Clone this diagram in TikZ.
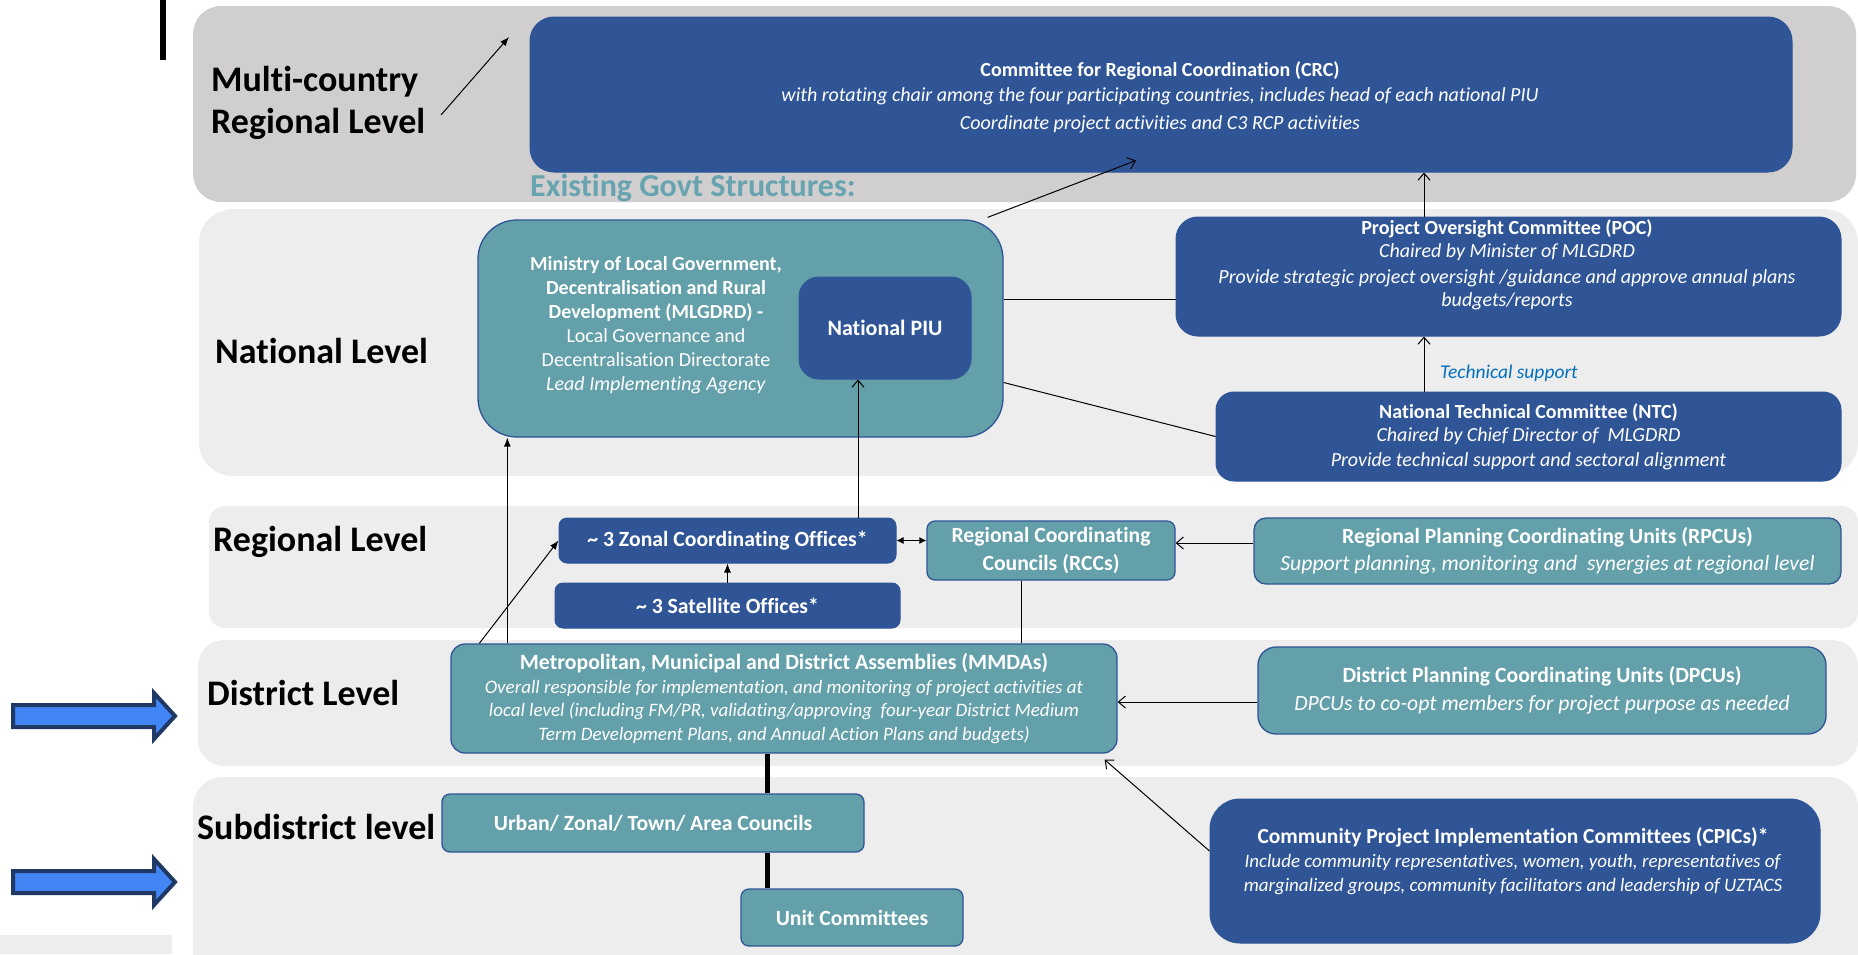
\documentclass[tikz,border=0pt]{standalone}
\usepackage{fontspec}
\setmainfont{Carlito}[Ligatures=NoCommon]
\usepackage{xcolor}
\usetikzlibrary{arrows.meta, positioning}
\definecolor{govblue}{RGB}{47, 85, 151}
\definecolor{govteal}{RGB}{100, 160, 170}
\definecolor{topband}{RGB}{208, 206, 206}
\definecolor{lowband}{RGB}{237, 237, 237}
\definecolor{existteal}{RGB}{104, 164, 176}
\definecolor{techblue}{RGB}{0, 112, 192}
\definecolor{arrowfill}{RGB}{66, 133, 244}
\definecolor{arrowedge}{RGB}{31, 56, 100}
\newcommand{\fsz}[2]{\fontsize{#1}{#2}\selectfont}

\begin{document}
\begin{tikzpicture}[x=1pt, y=-1pt,
    govbox/.style={rounded corners=#1, align=center, text=white, inner sep=0pt, line width=1pt},
    govbox/.default=10pt,
    darkbox/.style={govbox=#1, fill=govblue, draw=govblue},
    darkbox/.default=10pt,
    tealbox/.style={govbox=#1, fill=govteal, draw=govblue, line width=1.3pt},
    tealbox/.default=10pt,
    wh/.style 2 args={minimum width=#1, minimum height=#2},
    boxtext/.style={text=white, align=center, inner sep=0pt},
    lvl/.style={font=\bfseries\fsz{36}{42}, anchor=west, align=left, inner sep=0pt},
    link/.style={line width=1pt},
    openarr/.style={link, -{Straight Barb[length=7pt, width=12pt]}},
    fillarr/.style={link, -{Latex[length=9pt, width=7pt]}}]
  \useasboundingbox (0,0) rectangle (1858,954);

  % level bands
  \fill[topband, rounded corners=28pt] (193,6) rectangle (1856,202);
  \fill[lowband, rounded corners=34pt] (199,209) rectangle (1858,476);
  \fill[lowband, rounded corners=16pt] (209,506) rectangle (1858,628);
  \fill[lowband, rounded corners=26pt] (198,640) rectangle (1858,766);
  \fill[lowband, rounded corners=30pt] (193,777) rectangle (1858,990);
  \fill[lowband] (0,935) rectangle (172,954);
  \fill (160,0) rectangle (166,60);

  % level labels
  \node[lvl] (lvlmulti) at (211,103) {Multi-country\\Regional Level};
  \node[lvl] (lvlnat) at (215,351) {National Level};
  \node[lvl] (lvlreg) at (213,542) {Regional Level};
  \node[lvl] (lvldist) at (207,693) {District Level};
  \node[lvl] (lvlsub) at (197,827) {Subdistrict level};

  % multi-country level
  \node[darkbox=24pt, wh={1262pt}{155pt}] (crc) at (1161,94.5) {};
  \node[boxtext, font=\fsz{20}{24}] (crctext) at (1160,97)
    {\textbf{Committee for Regional Coordination (CRC)}\\[1pt]
     \textit{with rotating chair among the four participating countries, includes head of each national PIU}\\[4pt]
     \textit{Coordinate project activities and C3 RCP activities}};
  \node[font=\bfseries\fsz{32}{36}, text=existteal, anchor=west, inner sep=0pt] (existing) at (530,188) {Existing Govt Structures:};
  \coordinate (multitail) at (441,115);
  \coordinate (multihead) at (509,37);
  \draw[fillarr] (multitail) -- (multihead);

  % national level
  \node[tealbox=39pt, wh={525pt}{217pt}] (mlgdrd) at (740.5,328.5) {};
  \node[boxtext, font=\fsz{20}{24}] (mlgdrdtext) at (656,325)
    {\textbf{Ministry of Local Government,}\\
     \textbf{Decentralisation and Rural}\\
     \textbf{Development (MLGDRD) -}\\
     Local Governance and\\
     Decentralisation Directorate\\
     \textit{Lead Implementing Agency}};
  \node[darkbox=20pt, wh={172pt}{102pt}, font=\bfseries\fsz{22}{26}] (piu) at (885,328) {National PIU};

  \node[darkbox=22pt, wh={665pt}{119pt}] (poc) at (1508.5,276.5) {};
  \node[boxtext, font=\fsz{20}{23.5}] (poctext) at (1507,265)
    {\textbf{Project Oversight Committee (POC)}\\
     \textit{Chaired by Minister of MLGDRD}\\[2pt]
     \textit{Provide strategic project oversight /guidance and approve annual plans}\\
     \textit{budgets/reports}};
  \node[darkbox=18pt, wh={625pt}{89pt}, font=\fsz{20}{23.5}] (ntc) at (1528.5,436.5)
    {\textbf{National Technical Committee (NTC)}\\
     \textit{Chaired by Chief Director of\ \ MLGDRD}\\[1pt]
     \textit{Provide technical support and sectoral alignment}};
  \node[font=\itshape\fsz{19.5}{23.5}, text=techblue, anchor=west, inner sep=0pt] (techsup) at (1440,373) {Technical support};

  \coordinate (techx) at (1424,0);
  \draw[openarr] (ntc.north -| techx) -- (poc.south -| techx);
  \draw[openarr] (poc.north -| techx) -- (crc.south -| techx);
  \draw[link] ([yshift=29pt]mlgdrd.east) -- ([yshift=29pt]mlgdrd.east -| poc.west);
  \draw[link] ([yshift=-54pt]mlgdrd.east) -- (ntc.west);
  \draw[openarr] ([xshift=-16pt,yshift=2pt]mlgdrd.north east) -- ([xshift=-25pt,yshift=12pt]crc.south);

  % regional level
  \node[darkbox=8pt, wh={337pt}{45pt}, font=\bfseries\fsz{21.7}{24}] (zonal) at (727.5,540.5) {\textasciitilde{} 3 Zonal Coordinating Offices*};
  \node[darkbox=8pt, wh={345pt}{45pt}, font=\bfseries\fsz{21.7}{24}] (satellite) at (727.5,605.5) {\textasciitilde{} 3 Satellite Offices*};
  \node[tealbox=8pt, wh={248pt}{59pt}, font=\bfseries\fsz{21.7}{28}] (rcc) at (1051,550.5) {Regional Coordinating\\Councils (RCCs)};
  \node[tealbox=12pt, wh={587pt}{66pt}, font=\fsz{21.7}{27}] (rpcu) at (1547.5,551)
    {\textbf{Regional Planning Coordinating Units (RPCUs)}\\
     \textit{Support planning, monitoring and\ \ synergies at regional level}};

  \draw[fillarr] (satellite) -- (zonal);
  \draw[link, {Latex[length=7pt, width=7pt]}-{Latex[length=7pt, width=7pt]}] (zonal.east) -- (zonal.east -| rcc.west);
  \draw[openarr] ([yshift=8pt]rpcu.west) -- ([yshift=8pt]rpcu.west -| rcc.east);
  \coordinate (piux) at ([xshift=-27pt]piu.south);
  \draw[openarr] (zonal.north -| piux) -- (piux);

  % district level
  \node[tealbox=14pt, wh={666pt}{109pt}, font=\fsz{19}{23.5}] (mmda) at (784,698.5)
    {\textbf{\fsz{21.8}{23.5}Metropolitan, Municipal and District Assemblies (MMDAs)}\\
     \textit{Overall responsible for implementation, and monitoring of project activities at}\\
     \textit{local level (including FM/PR, validating/approving\ \ four-year District Medium}\\
     \textit{Term Development Plans, and Annual Action Plans and budgets)}};
  \node[tealbox=18pt, wh={568pt}{87pt}, font=\fsz{21.7}{28}] (dpcu) at (1542,690.5)
    {\textbf{District Planning Coordinating Units (DPCUs)}\\
     \textit{DPCUs to co-opt members for project purpose as needed}};

  \draw[fillarr] ([xshift=57pt]mmda.north west) -- ([xshift=57pt]mmda.north west |- mlgdrd.south);
  \draw[fillarr] ([xshift=29pt]mmda.north west) -- (zonal.west);
  \draw[link] ([xshift=-30pt]rcc.south) -- ([xshift=-30pt]rcc.south |- mmda.north);
  \draw[openarr] ([yshift=-11.5pt]dpcu.west) -- ([yshift=-11.5pt]dpcu.west -| mmda.east);

  % subdistrict level
  \node[tealbox=8pt, wh={422pt}{58pt}, font=\bfseries\fsz{21.7}{24}] (urban) at (653,823) {Urban/ Zonal/ Town/ Area Councils};
  \node[tealbox=8pt, wh={222pt}{57pt}, font=\bfseries\fsz{21.7}{24}] (unit) at (852,917.5) {Unit Committees};
  \node[darkbox=30pt, wh={610pt}{144pt}] (cpic) at (1515,871) {};
  \node[boxtext, font=\fsz{19}{24}] (cpictext) at (1513,861)
    {\textbf{\fsz{21.5}{24}Community Project Implementation Committees (CPICs)*}\\
     \textit{Include community representatives, women, youth, representatives of}\\
     \textit{marginalized groups, community facilitators and leadership of UZTACS}};

  \coordinate (trunk) at ([xshift=-17pt]mmda.south);
  \draw[line width=5pt] (trunk) -- (trunk |- urban.north);
  \draw[line width=5pt] (urban.south -| trunk) -- (unit.north -| trunk);
  \draw[openarr] ([yshift=20pt]cpic.west) -- ([xshift=-13pt,yshift=-6pt]mmda.south east);

  % pointer arrows at the left
  \foreach \y in {716,882}
    \draw[fill=arrowfill, draw=arrowedge, line width=4pt]
      (13,\y-11) -- (154,\y-11) -- (154,\y-23) -- (175,\y) -- (154,\y+23) -- (154,\y+11) -- (13,\y+11) -- cycle;
\end{tikzpicture}
\end{document}
